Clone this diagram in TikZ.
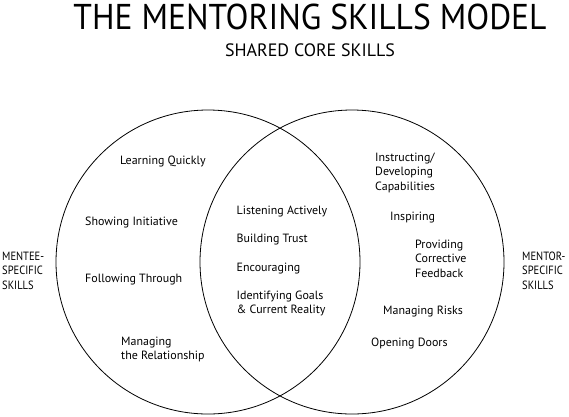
\documentclass[tikz,border=0pt]{standalone}
\usepackage{fontspec}
\setmainfont{PT Sans}
\newfontfamily\titlefont[FakeStretch=0.935]{PT Sans}
\newfontfamily\sidefont[FakeStretch=0.88]{PT Sans}
\begin{document}
\begin{tikzpicture}[x=1bp,y=-1bp,
  ring/.style={draw=black,line width=0.8bp},
  body/.style={inner sep=0pt,font=\fontsize{12}{14.5}\selectfont,align=left},
  side/.style={inner sep=0pt,font=\sidefont\fontsize{12}{14.5}\selectfont,align=left}]
\useasboundingbox (0,0) rectangle (569,416);
% circles
\draw[ring] (208,262) circle[radius=152];
\draw[ring] (352,262) circle[radius=152];
% title
\node[inner sep=0pt,anchor=base,font=\titlefont\fontsize{36}{40}\selectfont] (title) at (310,29) {THE MENTORING SKILLS MODEL};
\node[inner sep=0pt,anchor=base,font=\fontsize{18}{20}\selectfont] (sub) at (310,56) {SHARED CORE SKILLS};
% mentee
\node[body,anchor=base west] (lq) at (120,164) {Learning Quickly};
\node[body,anchor=base west] (si) at (85,225) {Showing Initiative};
\node[body,anchor=base west] (ft) at (85,282) {Following Through};
\node[body,anchor=west] (mr) at (121,349.5) {Managing\\the Relationship};
% shared
\node[body,anchor=base west] (la) at (236.5,214) {Listening Actively};
\node[body,anchor=base west] (bt) at (236.5,242) {Building Trust};
\node[body,anchor=base west] (en) at (236.5,271) {Encouraging};
\node[body,anchor=west] (ig) at (236.5,303.5) {Identifying Goals\\\& Current Reality};
% mentor
\node[body,anchor=west] (id) at (375,172.5) {Instructing/\\Developing\\Capabilities};
\node[body,anchor=base west] (in) at (390,220) {Inspiring};
\node[body,anchor=west] (pc) at (415,258.5) {Providing\\Corrective\\Feedback};
\node[body,anchor=base west] (mk) at (383,314) {Managing Risks};
\node[body,anchor=base west] (od) at (371,346) {Opening Doors};
% side labels
\node[side,anchor=west] (mentee) at (2,270.5) {MENTEE-\\SPECIFIC\\SKILLS};
\node[side,anchor=west] (mentor) at (522,270.5) {MENTOR-\\SPECIFIC\\SKILLS};
\end{tikzpicture}
\end{document}
